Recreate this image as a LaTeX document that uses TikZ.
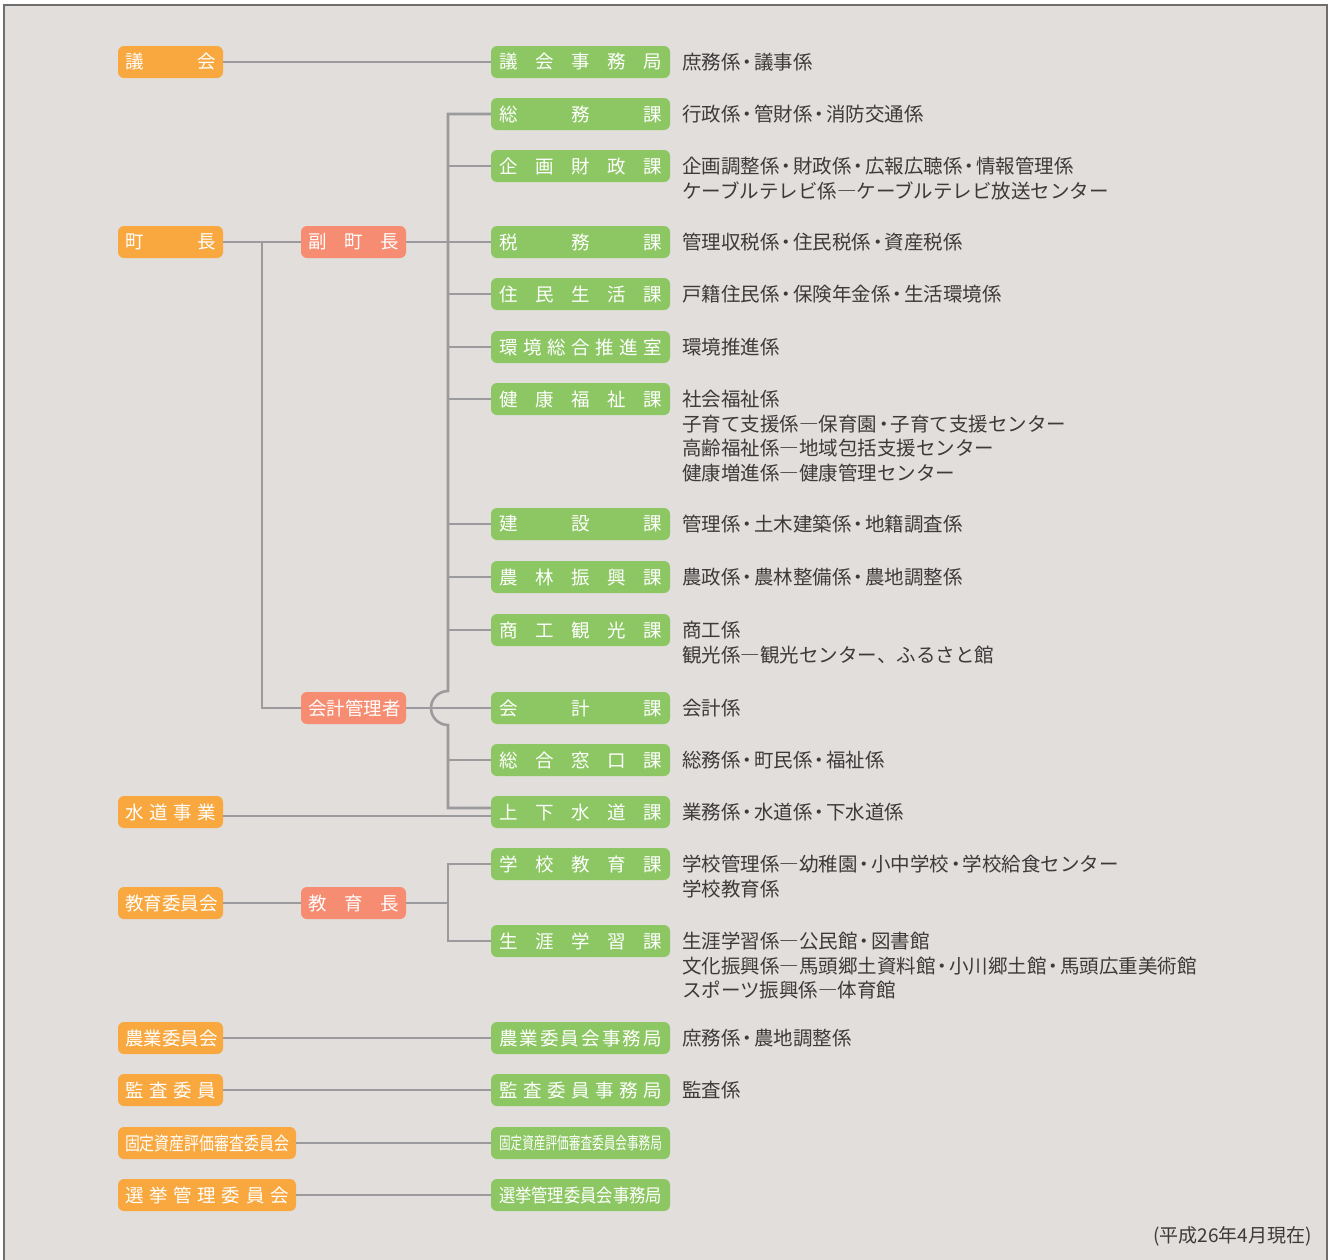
\documentclass[tikz,border=0pt]{standalone}
\usepackage{fontspec}
\usepackage{graphicx}
\setmainfont{Noto Sans CJK JP}
\usetikzlibrary{calc}
\definecolor{bgc}{HTML}{E2DEDB}
\definecolor{frc}{HTML}{6E6E6E}
\definecolor{orc}{HTML}{F9A83F}
\definecolor{sac}{HTML}{F68C71}
\definecolor{grc}{HTML}{8DC764}
\definecolor{lnc}{HTML}{9B9A9C}
\definecolor{txc}{HTML}{3C3A3A}
\newcommand\bfnt{\fontsize{18.5}{20}\selectfont}
\newcommand\dfnt{\fontsize{19.5}{24.5}\selectfont}
\newcommand\dt{\kern-3pt・\kern-3pt}
\newcommand\ml[1]{\vtop{\baselineskip=24.5pt #1}}
\tikzset{
  box/.style={rounded corners=6pt, minimum height=32pt, inner sep=0pt, text=white, font=\bfnt},
  obox/.style={box, fill=orc, minimum width=105pt},
  owbox/.style={box, fill=orc, minimum width=178pt},
  sbox/.style={box, fill=sac, minimum width=105pt},
  gbox/.style={box, fill=grc, minimum width=179pt},
  ln/.style={draw=lnc, line width=2.6pt},
  desc/.style={anchor=base west, inner sep=0pt, text=txc, font=\dfnt},
}
\newcommand\sa[1]{\hbox to 91pt{#1}}
\newcommand\sg[1]{\hbox to 163pt{#1}}
\begin{document}
\begin{tikzpicture}[x=1pt,y=-1pt]
\useasboundingbox (0,0) rectangle (1334,1259);
\fill[bgc] (4,5) rectangle (1327,1270);
\draw[frc, line width=1.6pt] (4,1270) -- (4,5) -- (1327,5) -- (1327,1270);

% left column
\node[obox] (A1) at (170.5,62) {\sa{議\hfill 会}};
\node[obox] (A2) at (170.5,242) {\sa{町\hfill 長}};
\node[sbox] (B1) at (353.5,242) {\sa{副\hfill 町\hfill 長}};
\node[sbox] (B2) at (353.5,708) {\sa{会計管理者}};
\node[obox] (A3) at (170.5,812) {\sa{水\hfill 道\hfill 事\hfill 業}};
\node[obox] (A4) at (170.5,903) {\sa{教育委員会}};
\node[sbox] (B3) at (353.5,903) {\sa{教\hfill 育\hfill 長}};
\node[obox] (A5) at (170.5,1038) {\sa{農業委員会}};
\node[obox] (A6) at (170.5,1090) {\sa{監\hfill 査\hfill 委\hfill 員}};
\node[owbox] (A7) at (207,1143) {\resizebox{164pt}{\height}{固定資産評価審査委員会}};
\node[owbox] (A8) at (207,1195) {\hbox to 164pt{選\hfill 挙\hfill 管\hfill 理\hfill 委\hfill 員\hfill 会}};

% green column
\node[gbox] (G1) at (580.5,62) {\sg{議\hfill 会\hfill 事\hfill 務\hfill 局}};
\node[gbox] (G2) at (580.5,114) {\sg{総\hfill 務\hfill 課}};
\node[gbox] (G3) at (580.5,166) {\sg{企\hfill 画\hfill 財\hfill 政\hfill 課}};
\node[gbox] (G4) at (580.5,242) {\sg{税\hfill 務\hfill 課}};
\node[gbox] (G5) at (580.5,294) {\sg{住\hfill 民\hfill 生\hfill 活\hfill 課}};
\node[gbox] (G6) at (580.5,347) {\sg{環\hfill 境\hfill 総\hfill 合\hfill 推\hfill 進\hfill 室}};
\node[gbox] (G7) at (580.5,399) {\sg{健\hfill 康\hfill 福\hfill 祉\hfill 課}};
\node[gbox] (G8) at (580.5,524) {\sg{建\hfill 設\hfill 課}};
\node[gbox] (G9) at (580.5,577) {\sg{農\hfill 林\hfill 振\hfill 興\hfill 課}};
\node[gbox] (G10) at (580.5,630) {\sg{商\hfill 工\hfill 観\hfill 光\hfill 課}};
\node[gbox] (G11) at (580.5,708) {\sg{会\hfill 計\hfill 課}};
\node[gbox] (G12) at (580.5,760) {\sg{総\hfill 合\hfill 窓\hfill 口\hfill 課}};
\node[gbox] (G13) at (580.5,812) {\sg{上\hfill 下\hfill 水\hfill 道\hfill 課}};
\node[gbox] (G14) at (580.5,864) {\sg{学\hfill 校\hfill 教\hfill 育\hfill 課}};
\node[gbox] (G15) at (580.5,941) {\sg{生\hfill 涯\hfill 学\hfill 習\hfill 課}};
\node[gbox] (G16) at (580.5,1038) {\sg{農\hfill 業\hfill 委\hfill 員\hfill 会\hfill 事\hfill 務\hfill 局}};
\node[gbox] (G17) at (580.5,1090) {\sg{監\hfill 査\hfill 委\hfill 員\hfill 事\hfill 務\hfill 局}};
\node[gbox] (G18) at (580.5,1143) {\fontsize{17}{18}\selectfont\resizebox{163pt}{\height}{固定資産評価審査委員会事務局}};
\node[gbox] (G19) at (580.5,1195) {\resizebox{163pt}{\height}{選挙管理委員会事務局}};

% descriptions
\node[desc] (D1) at (682,69.6) {庶務係\dt 議事係};
\node[desc] (D2) at (682,121.6) {行政係\dt 管財係\dt 消防交通係};
\node[desc] (D3) at (682,173.6) {\ml{\hbox{企画調整係\dt 財政係\dt 広報広聴係\dt 情報管理係}\hbox{ケーブルテレビ係―ケーブルテレビ放送センター}}};
\node[desc] (D4) at (682,249.6) {管理収税係\dt 住民税係\dt 資産税係};
\node[desc] (D5) at (682,301.6) {戸籍住民係\dt 保険年金係\dt 生活環境係};
\node[desc] (D6) at (682,354.6) {環境推進係};
\node[desc] (D7) at (682,406.6) {\ml{\hbox{社会福祉係}\hbox{子育て支援係―保育園\dt 子育て支援センター}\hbox{高齢福祉係―地域包括支援センター}\hbox{健康増進係―健康管理センター}}};
\node[desc] (D8) at (682,531.6) {管理係\dt 土木建築係\dt 地籍調査係};
\node[desc] (D9) at (682,584.6) {農政係\dt 農林整備係\dt 農地調整係};
\node[desc] (D10) at (682,637.6) {\ml{\hbox{商工係}\hbox{観光係―観光センター、ふるさと館}}};
\node[desc] (D11) at (682,715.6) {会計係};
\node[desc] (D12) at (682,767.6) {総務係\dt 町民係\dt 福祉係};
\node[desc] (D13) at (682,819.6) {業務係\dt 水道係\dt 下水道係};
\node[desc] (D14) at (682,871.6) {\ml{\hbox{学校管理係―幼稚園\dt 小中学校\dt 学校給食センター}\hbox{学校教育係}}};
\node[desc] (D15) at (682,948.6) {\ml{\hbox{生涯学習係―公民館\dt 図書館}\hbox{文化振興係―馬頭郷土資料館\dt 小川郷土館\dt 馬頭広重美術館}\hbox{スポーツ振興係―体育館}}};
\node[desc] (D16) at (682,1045.6) {庶務係\dt 農地調整係};
\node[desc] (D17) at (682,1097.6) {監査係};
\node[anchor=base east, inner sep=0pt, text=txc, font=\fontsize{19}{20}\selectfont] (DT) at (1312,1242) {(平成26年4月現在)};

% connectors
\coordinate (tx) at (448,0);
\coordinate (vx) at (262,0);
\draw[ln] (A1) -- (G1);
\draw[ln] (A2) -- (B1);
\draw[ln] (B1) -- (G4);
\draw[ln] (vx |- A2.east) |- (B2.west);
\draw[ln] (B2) -- (G11);
\draw[ln] (G2.west) -| ($(tx |- B2.east)+(0,-17)$) arc[start angle=90, end angle=270, radius=17pt] |- ($(G13.west)+(0,-4)$);
\foreach \n in {G3,G5,G6,G7,G8,G9,G10,G12} \draw[ln] (\n.west) -- (\n.west -| tx);
\draw[ln] ($(A3.east)+(0,4)$) -- ($(G13.west)+(0,4)$);
\draw[ln] (A4) -- (B3);
\draw[ln] (B3.east) -- (B3.east -| tx);
\draw[ln] (G14.west) -| (tx |- G15.west) -- (G15.west);
\draw[ln] (A5) -- (G16);
\draw[ln] (A6) -- (G17);
\draw[ln] (A7) -- (G18);
\draw[ln] (A8) -- (G19);
\end{tikzpicture}
\end{document}
